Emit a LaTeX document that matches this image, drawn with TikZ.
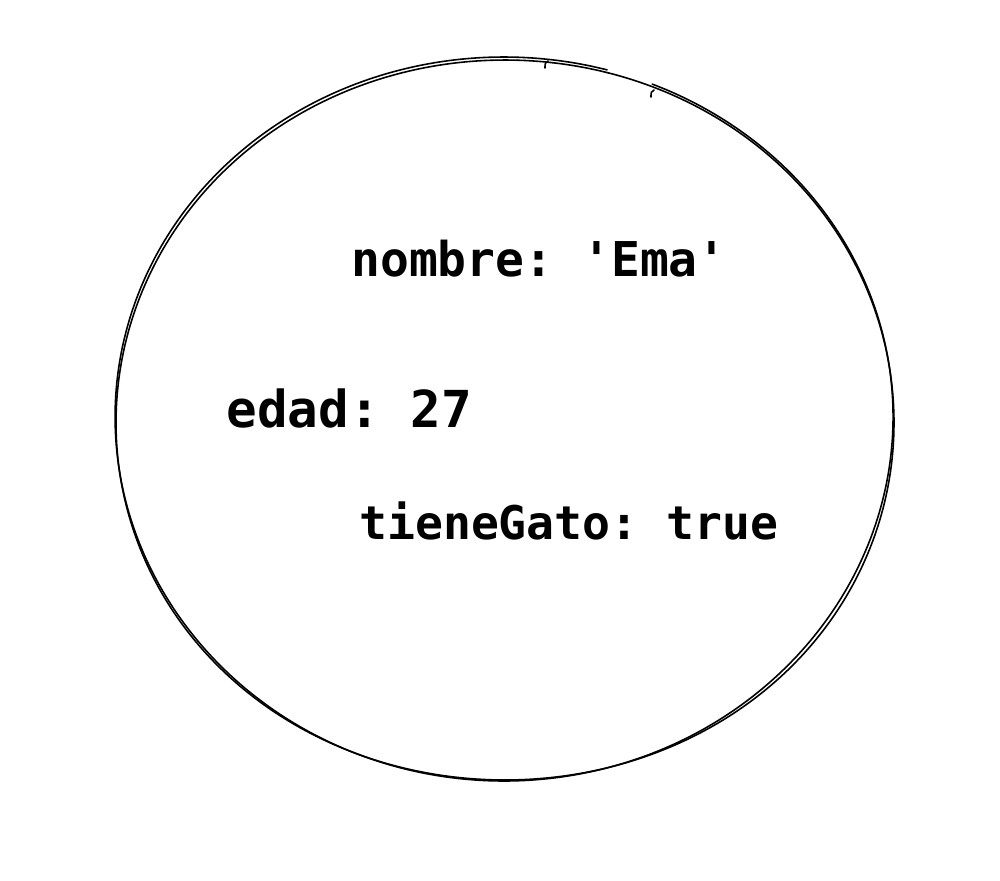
\documentclass[tikz,border=0pt]{standalone}
\usepackage{fontspec}
\setmonofont{DejaVu Sans Mono}
\begin{document}
\begin{tikzpicture}[x=0.02cm, y=-0.02cm, line join=round, line cap=round,
		stroke/.style={line width=0.9pt},
		field/.style={anchor=base west, inner sep=0pt, font=\fontsize{#1pt}{#1pt}\selectfont\ttfamily\bfseries}]
		\def\cx{505} \def\cy{420}
		\def\rx{389} \def\ry{362}
		\useasboundingbox (0,0) rectangle (1000,880);
		% two rough passes of the hand drawn circle
		\draw[stroke] plot[samples=140, smooth, domain=276:652]
			({\cx+(\rx+3*sin(\x))*cos(\x)}, {\cy+(\ry+2*cos(2*\x))*sin(\x)});
		\draw[stroke] plot[samples=140, smooth, domain=292:645]
			({\cx+1+(\rx-3*sin(\x+40))*cos(\x)}, {\cy-1+(\ry-2*cos(\x))*sin(\x)});
		\draw[stroke] (548,61) .. controls (545,63) .. (545,68);
		\draw[stroke] (654,90) .. controls (651,92) .. (651,97);
		% fields
		\node[field=27.3] (nombre) at (351,276) {nombre: 'Ema'};
		\node[field=29] (edad) at (226,427) {edad: 27};
		\node[field=26.4] (gato) at (359,539) {tieneGato: true};
\end{tikzpicture}
\end{document}
